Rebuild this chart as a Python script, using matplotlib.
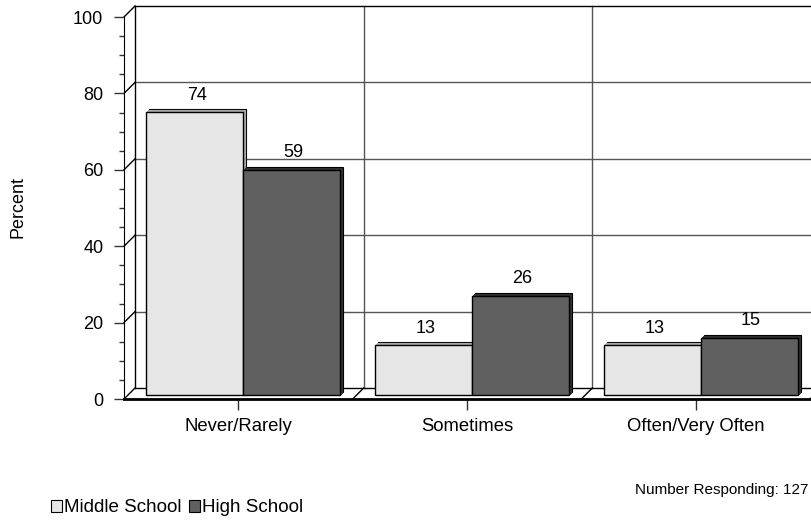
import matplotlib.pyplot as plt
import matplotlib.transforms as mtransforms
from matplotlib.patches import Rectangle, Patch

plt.rcParams['font.family'] = ['Liberation Sans', 'DejaVu Sans']

categories = ['Never/Rarely', 'Sometimes', 'Often/Very Often']
series_names = ['Middle School', 'High School']
middle_school = [74, 13, 13]
high_school = [59, 26, 15]
n_responding = 127

face_colors = ['#e6e6e6', '#606060']
side_colors = ['#a8a8a8', '#303030']

DEPTH = 11        # pixel depth of the back wall
BAR_DX, BAR_DY = 5, 4   # bars sit part way into the box
BAR_DEPTH = 3
BAR_W = 0.424

fig = plt.figure(figsize=(8.11, 5.22), dpi=100)
ax = fig.add_axes([124 / 811, (522 - 399) / 522, 686 / 811, 382 / 522])
ax.set_xlim(0, 3)
ax.set_ylim(0, 100)


def shift(dx, dy):
    return ax.transData + mtransforms.ScaledTranslation(dx / fig.dpi, dy / fig.dpi,
                                                        fig.dpi_scale_trans)


back = shift(DEPTH, DEPTH)
grid_kw = dict(color='#555555', lw=1, clip_on=False, zorder=1)

# back wall
for y in [20, 40, 60, 80]:
    ax.plot([0, 3], [y, y], transform=back, **grid_kw)
for x in [1, 2]:
    ax.plot([x, x], [0, 100], transform=back, **grid_kw)
ax.plot([0, 3], [100, 100], transform=back, color='black', lw=1, clip_on=False, zorder=1)
ax.plot([0, 0], [0, 100], transform=back, color='black', lw=1, clip_on=False, zorder=1)
ax.plot([0, 3], [0, 0], transform=back, color='black', lw=1, clip_on=False, zorder=1)

# side wall and floor diagonals
for y in range(0, 101, 20):
    p0 = ax.transData.transform((0, y))
    ax.plot([p0[0], p0[0] + DEPTH], [p0[1], p0[1] + DEPTH], transform=None,
            color='black', lw=1, clip_on=False, zorder=1)
for x in [1, 2, 3]:
    p0 = ax.transData.transform((x, 0))
    ax.plot([p0[0], p0[0] + DEPTH], [p0[1], p0[1] + DEPTH], transform=None,
            color='black', lw=1, clip_on=False, zorder=1)

# bars with a little extrusion
for i in range(len(categories)):
    for j, vals in enumerate([middle_school, high_school]):
        x0 = i + 0.5 - BAR_W + j * BAR_W
        v = vals[i]
        for k in range(BAR_DEPTH, 0, -1):
            ax.add_patch(Rectangle((x0, 0), BAR_W, v,
                                   transform=shift(BAR_DX + k, BAR_DY + k),
                                   facecolor=side_colors[j],
                                   edgecolor='black' if k == BAR_DEPTH else side_colors[j],
                                   lw=0.8, clip_on=False, zorder=3))
        ax.add_patch(Rectangle((x0, 0), BAR_W, v, transform=shift(BAR_DX, BAR_DY),
                               facecolor=face_colors[j], edgecolor='black', lw=1,
                               clip_on=False, zorder=4))
        ax.annotate(str(v), xy=(x0 + BAR_W / 2, v), xytext=(5, 12),
                    textcoords='offset points', ha='center', va='baseline',
                    fontsize=13, zorder=5)

# axes
for s in ['top', 'right']:
    ax.spines[s].set_visible(False)
ax.spines['left'].set_zorder(2)
ax.spines['bottom'].set_linewidth(2)
ax.spines['bottom'].set_zorder(5)
ax.set_yticks(range(0, 101, 20))
ax.set_yticks(range(0, 101, 5), minor=True)
ax.tick_params(axis='y', which='major', length=7.2, width=1, pad=7.7,
               labelsize=13, color='#333333')
ax.tick_params(axis='y', which='minor', length=3.6, width=1, color='#333333')
ax.set_xticks([0.5, 1.5, 2.5])
ax.set_xticklabels(categories)
ax.tick_params(axis='x', length=8, width=1, pad=6, labelsize=13.3, color='#333333')
ax.patch.set_visible(False)

fig.text(18 / 811, 1 - 207 / 522, 'Percent', rotation=90, ha='center', va='center',
         fontsize=13)
fig.text(808 / 811, 1 - 490 / 522, 'Number Responding: %d' % n_responding,
         ha='right', va='center', fontsize=11)

handles = [Patch(facecolor=c, edgecolor='black', lw=0.8) for c in face_colors]
fig.legend(handles, series_names, loc='center left',
           bbox_to_anchor=(51 / 811, 1 - 508 / 522), ncol=2, frameon=False,
           fontsize=13.5, handlelength=0.6, handleheight=0.55, handletextpad=0.12,
           columnspacing=0.35, borderpad=0, borderaxespad=0)

fig.savefig('out.png', dpi=100)
